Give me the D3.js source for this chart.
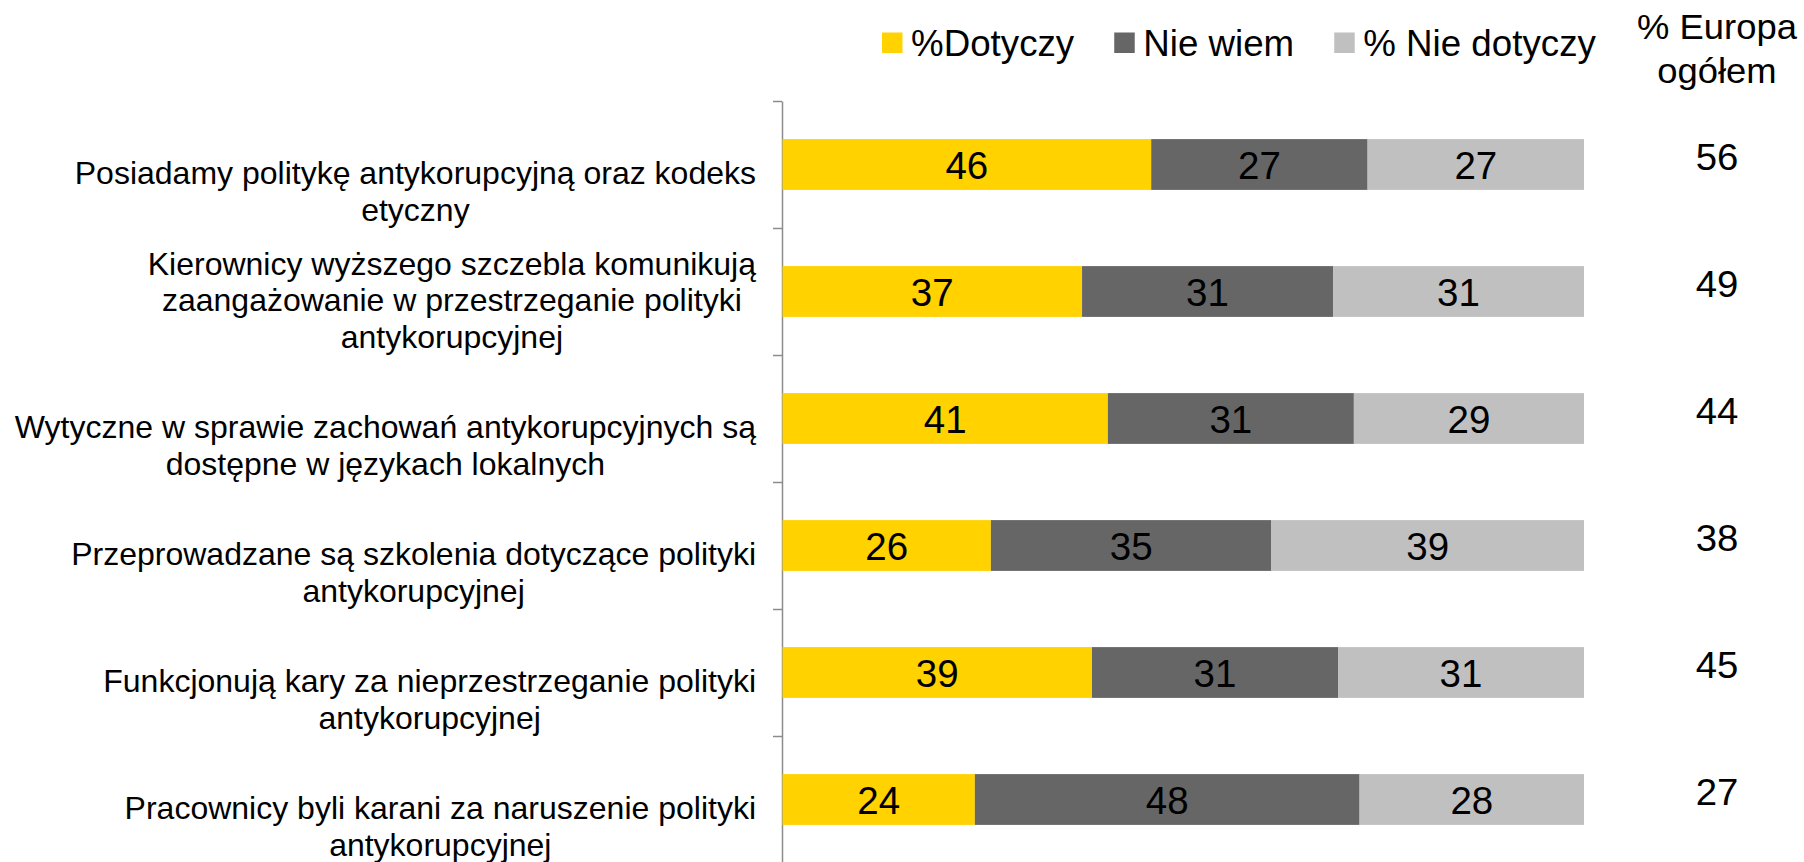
<!DOCTYPE html>
<html>
<head>
<meta charset="utf-8">
<script src="https://cdn.jsdelivr.net/npm/d3@7"></script>
<style>
	html, body { margin: 0; padding: 0; background: #fff; }
	svg { display: block; font-family: "Liberation Sans", Arial, sans-serif; }
</style>
</head>
<body>
<svg id="chart" width="1804" height="862"></svg>
<script>
(function(){

// categories, one array of lines per label
var categories = [
	["Posiadamy politykę antykorupcyjną oraz kodeks", "etyczny"],
	["Kierownicy wyższego szczebla komunikują", "zaangażowanie w przestrzeganie polityki", "antykorupcyjnej"],
	["Wytyczne w sprawie zachowań antykorupcyjnych są", "dostępne w językach lokalnych"],
	["Przeprowadzane są szkolenia dotyczące polityki", "antykorupcyjnej"],
	["Funkcjonują kary za nieprzestrzeganie polityki", "antykorupcyjnej"],
	["Pracownicy byli karani za naruszenie polityki", "antykorupcyjnej"]
];

var seriesNames = ["%Dotyczy", "Nie wiem", "% Nie dotyczy"];
var dotyczy    = [46, 37, 41, 26, 39, 24];
var nieWiem    = [27, 31, 31, 35, 31, 48];
var nieDotyczy = [27, 31, 29, 39, 31, 28];
var europa     = [56, 49, 44, 38, 45, 27];
var europaTitle = ["% Europa", "ogółem"];

var COLORS = ["#FFD200", "#666666", "#C0C0C0"];
var AXIS_COLOR = "#8C8C8C";


var svg = d3.select("#chart");

// text placed by translate, optionally stretched sideways (the source text is a bit wide)
function placeText(sel, fx, fy, sx) {
	return sel.attr("transform", function(d, i) {
		return "translate(" + fx(d, i) + "," + fy(d, i) + ") scale(" + sx + ",1)";
	});
}

var table = categories.map(function(c, i) {
	return { idx: i, a: dotyczy[i], b: nieWiem[i], c: nieDotyczy[i] };
});

// 100% stacked, like the original
var stack = d3.stack()
	.keys(["a", "b", "c"])
	.offset(d3.stackOffsetExpand);
var layers = stack(table);

var x = d3.scaleLinear().domain([0, 1]).range([782.5, 1584]);

var y = d3.scaleBand()
	.domain(d3.range(categories.length))
	.range([101, 863])
	.paddingInner(0.6)
	.paddingOuter(0.3);

// axis with ticks between the categories
var yEdge = d3.scaleLinear().domain([0, categories.length]).range([101, 863]);
var axis = svg.append("g")
	.attr("transform", "translate(782,0)")
	.call(d3.axisLeft(yEdge)
		.tickValues(d3.range(categories.length + 1))
		.tickFormat("")
		.tickSize(9)
		.tickSizeOuter(0));
axis.selectAll("path, line").attr("stroke", AXIS_COLOR).attr("stroke-width", 1.5);


var groups = svg.selectAll("g.layer")
	.data(layers)
	.enter().append("g")
	.attr("class", "layer")
	.attr("fill", function(d, i) { return COLORS[i]; });

groups.selectAll("rect")
	.data(function(d) { return d; })
	.enter().append("rect")
	.attr("x", function(d) { return x(d[0]); })
	.attr("y", function(d, i) { return y(i); })
	.attr("width", function(d) { return x(d[1]) - x(d[0]); })
	.attr("height", y.bandwidth());

groups.selectAll("text")
	.data(function(layer) {
		return layer.map(function(d) { return { d: d, v: d.data[layer.key] }; });
	})
	.enter().append("text")
	.attr("x", function(o) { return (x(o.d[0]) + x(o.d[1])) / 2; })
	.attr("y", function(o, i) { return y(i) + y.bandwidth() / 2 + 14; })
	.attr("text-anchor", "middle")
	.attr("font-size", 38.5)
	.attr("fill", "#000")
	.text(function(o) { return o.v; });


// category labels: centred block, right edge near the axis, bottom-anchored
var LABEL_RIGHT = 756;
var LINE_H = 36.5;
categories.forEach(function(lines, i) {
	var g = svg.append("g");
	var cy = y(i) + y.bandwidth() / 2;
	var rows = lines.map(function(line, k) {
		return g.append("text")
			.attr("font-size", 32)
			.attr("fill", "#000")
			.attr("text-anchor", "middle")
			.attr("y", cy + 56 - (lines.length - 1 - k) * LINE_H)
			.text(line);
	});
	var maxW = d3.max(rows, function(t) { return t.node().getComputedTextLength(); });
	rows.forEach(function(t) { t.attr("x", LABEL_RIGHT - maxW / 2); });
});


// Europa column
placeText(svg.append("g").selectAll("text")
	.data(europaTitle)
	.enter().append("text")
	.attr("text-anchor", "middle")
	.attr("font-size", 35)
	.text(function(d) { return d; }),
	function() { return 1717; },
	function(d, i) { return 39 + i * 43.5; },
	1.04);

placeText(svg.append("g").selectAll("text")
	.data(europa)
	.enter().append("text")
	.attr("text-anchor", "middle")
	.attr("font-size", 36.5)
	.text(function(d) { return d; }),
	function() { return 1717; },
	function(d, i) { return y(i) + y.bandwidth() / 2 + 5; },
	1.05);


// legend
var legend = svg.append("g");
var LEGEND_SX = 1.02;
var lx = 882;
seriesNames.forEach(function(name, i) {
	legend.append("rect")
		.attr("x", lx).attr("y", 32.5)
		.attr("width", 20.5).attr("height", 20.5)
		.attr("fill", COLORS[i]);
	var t = legend.append("text")
		.attr("font-size", 36)
		.attr("transform", "translate(" + (lx + 29) + ",55.7) scale(" + LEGEND_SX + ",1)")
		.text(name);
	lx += 29 + LEGEND_SX * t.node().getComputedTextLength() + 40;
});

})();
</script>
</body>
</html>
